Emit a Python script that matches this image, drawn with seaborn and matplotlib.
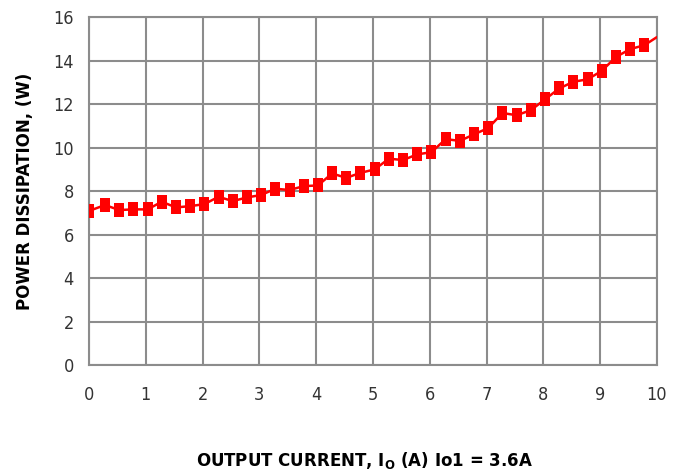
import numpy as np
import pandas as pd
import matplotlib
matplotlib.use("Agg")
import matplotlib.pyplot as plt
import seaborn as sns

# Data
current = [0.0, 0.28, 0.53, 0.78, 1.03, 1.28, 1.53, 1.78, 2.03, 2.28,
           2.53, 2.78, 3.03, 3.28, 3.53, 3.78, 4.03, 4.28, 4.53, 4.78,
           5.03, 5.28, 5.53, 5.78, 6.03, 6.28, 6.53, 6.78, 7.03, 7.28,
           7.53, 7.78, 8.03, 8.28, 8.53, 8.78, 9.03, 9.28, 9.53, 9.78]
power = [7.09, 7.36, 7.13, 7.16, 7.16, 7.51, 7.25, 7.31, 7.40, 7.74,
         7.54, 7.71, 7.82, 8.11, 8.05, 8.23, 8.26, 8.81, 8.61, 8.84,
         9.00, 9.49, 9.43, 9.69, 9.79, 10.39, 10.31, 10.61, 10.90, 11.59,
         11.49, 11.72, 12.22, 12.72, 13.03, 13.14, 13.53, 14.17, 14.53, 14.71]
# the line runs on to the edge of the plot
line_end_x = 10.0
line_end_y = 15.08

x_ticks = list(range(0, 11))
y_ticks = list(range(0, 17, 2))

df = pd.DataFrame({"current": current, "power": power})
line_df = pd.DataFrame({"current": current + [line_end_x],
                        "power": power + [line_end_y]})

sns.set_style("white")
plt.rcParams['font.family'] = ['DejaVu Sans']

fig = plt.figure(figsize=(6.8, 4.76), dpi=100)
ax = fig.add_axes([0.131, 0.233, 0.835, 0.731])

grid_col = "#8c8c8c"
sns.lineplot(data=line_df, x="current", y="power", ax=ax, color="#ff0000",
             linewidth=1.8, zorder=3)
rect = [(-0.4, -0.5), (0.4, -0.5), (0.4, 0.5), (-0.4, 0.5)]
sns.scatterplot(data=df, x="current", y="power", ax=ax, color="#ff0000",
                marker=rect, s=90, linewidth=0, zorder=4)

ax.set_xlim(0, 10)
ax.set_ylim(0, 16)
ax.set_xticks(x_ticks)
ax.set_yticks(y_ticks)
ax.grid(True, color=grid_col, linewidth=1.5)
for s in ax.spines.values():
    s.set_color(grid_col)
    s.set_linewidth(1.5)

ax.tick_params(axis='both', colors=grid_col, length=5, width=1.2,
               labelcolor="#333333", labelsize=13)
ax.tick_params(axis='x', pad=10)
ax.tick_params(axis='y', pad=6)
for lab in ax.get_xticklabels() + ax.get_yticklabels():
    lab.set_fontstretch('condensed')

ax.set_xlabel(r"OUTPUT CURRENT, I$_{\mathbf{O}}$ (A) Io1 = 3.6A",
              fontsize=12, fontweight="bold", color="black")
ax.set_ylabel("POWER DISSIPATION, (W)", fontsize=12, fontweight="bold",
              color="black")
ax.xaxis.set_label_coords(0.485, -0.245)
ax.yaxis.set_label_coords(-0.097, 0.5)

fig.savefig("out.png", dpi=100)
